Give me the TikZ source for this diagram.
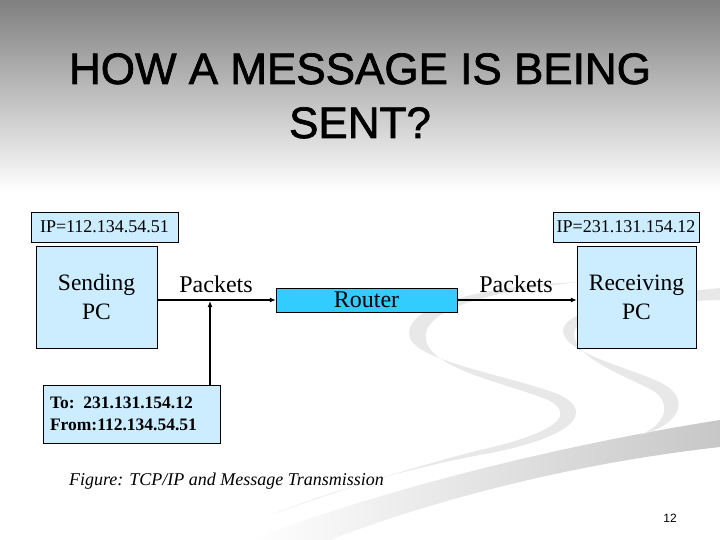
\documentclass[tikz,border=0pt]{standalone}
\usepackage{fontspec}
\setmainfont{Liberation Serif}
\setsansfont{Liberation Sans}
\newfontfamily\titlefont[FakeBold=1.6]{Liberation Sans}
\usetikzlibrary{arrows.meta}
\definecolor{paleblue}{RGB}{204,236,255}
\definecolor{routerblue}{RGB}{51,204,255}

\begin{document}
\begin{tikzpicture}[x=1pt,y=-1pt,
  ipbox/.style={draw,fill=paleblue,minimum height=30pt,inner sep=0pt,font=\fontsize{18}{20}\selectfont},
  pcbox/.style={draw,fill=paleblue,minimum height=102pt,inner sep=0pt,align=center,font=\fontsize{23.5}{29}\selectfont},
  routerbox/.style={draw,fill=routerblue,minimum width=181pt,minimum height=24pt,inner sep=0pt,font=\fontsize{24}{26}\selectfont},
  hdrbox/.style={draw,fill=paleblue,text width=163pt,inner sep=7pt,minimum height=58pt,align=left,font=\bfseries\fontsize{17.5}{22}\selectfont},
  lbl/.style={font=\fontsize{24}{26}\selectfont},
  swoosh/.style={fill=black!9},
  arr/.style={line width=2pt,-{Latex[length=6pt,width=5pt]}}]
\useasboundingbox (0,0) rectangle (720,540);
% slide background
\shade[top color=black!50,bottom color=white] (0,0) rectangle (720,192);
\shade[left color=white,right color=black!22] (250,540) .. controls (380,490) and (560,445) .. (720,420) -- (720,447) .. controls (560,465) and (420,505) .. (330,540) -- cycle;
\fill[swoosh] (580,282) .. controls (470,286) and (400,310) .. (410,338) .. controls (418,362) and (520,378) .. (560,395) .. controls (595,412) and (575,438) .. (480,455) .. controls (400,470) and (330,492) .. (270,515) .. controls (340,490) and (410,468) .. (480,450) .. controls (560,432) and (575,414) .. (548,400) .. controls (510,384) and (432,370) .. (426,340) .. controls (420,312) and (480,292) .. (580,282) -- cycle;
\fill[swoosh] (720,288) .. controls (640,295) and (560,310) .. (563,332) .. controls (566,355) and (640,370) .. (665,385) .. controls (690,400) and (680,425) .. (640,435) .. controls (665,425) and (672,405) .. (655,392) .. controls (630,377) and (575,360) .. (574,334) .. controls (573,312) and (650,302) .. (720,300) -- cycle;

% title
\node[font=\fontsize{44}{52}\selectfont\titlefont,anchor=base] (title1) at (360,84) {HOW A MESSAGE IS BEING};
\node[font=\fontsize{44}{52}\selectfont\titlefont,anchor=base] (title2) at (360,138) {SENT?};

% hosts and router
\node[ipbox,minimum width=147pt] (ipsend) at (104.5,227) {IP=112.134.54.51};
\node[pcbox,minimum width=121pt] (send) at (96.5,297) {Sending\\PC};
\node[routerbox] (router) at (366.5,300) {Router};
\node[pcbox,minimum width=119pt] (recv) at (636.5,297.5) {Receiving\\PC};
\node[ipbox,minimum width=146pt] (iprecv) at (626,227) {IP=231.131.154.12};
\node[hdrbox] (hdr) at (131.5,414) {To: 231.131.154.12\\From:112.134.54.51};

\node[lbl] (pk1) at (216,284) {Packets};
\node[lbl] (pk2) at (516,284) {Packets};

% connectors
\draw[arr] (send.east |- router.west) -- (router.west);
\draw[arr] (router.east) -- (recv.west |- router.east);
\coordinate (tap) at (210,301);
\draw[arr] (hdr.north -| tap) -- (tap);

% caption and page number
\node[font=\itshape\fontsize{18}{20}\selectfont] (cap) at (226.5,481) {Figure: TCP/IP and Message Transmission};
\node[font=\sffamily\fontsize{12}{14}\selectfont] (page) at (670,518) {12};
\end{tikzpicture}
\end{document}
